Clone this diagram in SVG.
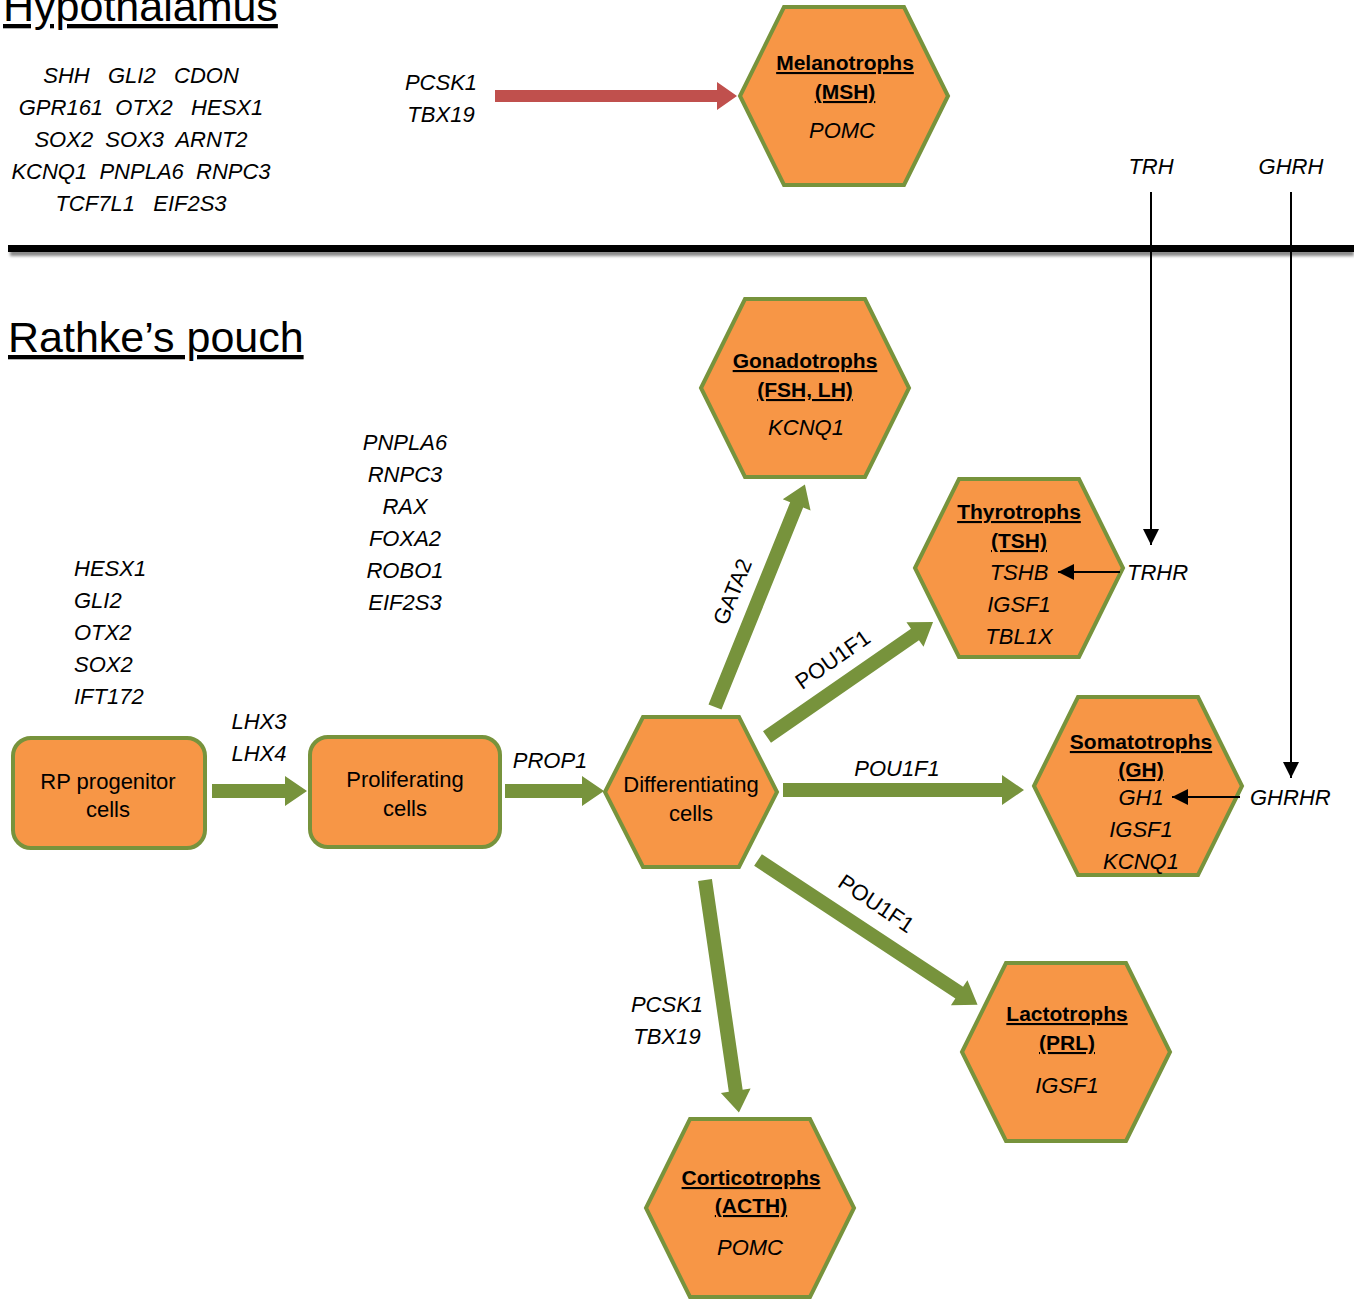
<svg xmlns="http://www.w3.org/2000/svg" width="1354" height="1300" viewBox="0 0 1354 1300">
<defs>
<style>
.hex{fill:#F79646;stroke:#77933C;stroke-width:4;stroke-linejoin:miter}
.box{fill:#F79646;stroke:#77933C;stroke-width:4}
.garrow{fill:#77933C}
.rarrow{fill:#C0504D}
.t{font-family:"Liberation Sans",Arial,sans-serif;fill:#000}
.b{font-family:"Liberation Sans",Arial,sans-serif;font-weight:bold;font-size:21px;text-decoration:underline;text-anchor:middle}
.i{font-family:"Liberation Sans",Arial,sans-serif;font-style:italic;font-size:22px}
.m{text-anchor:middle}
.r{font-family:"Liberation Sans",Arial,sans-serif;font-size:22px;text-anchor:middle}
.pre{white-space:pre}
.thin{stroke:#000;stroke-width:2;fill:none}
</style>
<marker id="ah2" viewBox="0 0 10 10" refX="10" refY="5" markerWidth="8" markerHeight="8" orient="auto">
<path d="M0,0 L10,5 L0,10 z" fill="#000"/>
</marker>
<filter id="sh" x="-0.01" y="-2" width="1.02" height="5">
<feGaussianBlur stdDeviation="1.5"/>
</filter>
</defs>
<rect width="1354" height="1300" fill="#fff"/>

<!-- Titles and separators -->
<g id="titles">
<text class="t" x="3" y="21" font-size="43" text-decoration="underline">Hypothalamus</text>
<text class="t" x="8" y="352" font-size="43" text-decoration="underline">Rathke’s pouch</text>
<rect x="10" y="250" width="1344" height="6" fill="#888" filter="url(#sh)"/>
<rect x="8" y="245" width="1346" height="7" fill="#000"/>
</g>

<!-- Gene lists -->
<g id="hypothalamus-genes">
<text class="i m pre" x="141" y="83">SHH   GLI2   CDON</text>
<text class="i m pre" x="141" y="115">GPR161  OTX2   HESX1</text>
<text class="i m pre" x="141" y="147">SOX2  SOX3  ARNT2</text>
<text class="i m pre" x="141" y="179">KCNQ1  PNPLA6  RNPC3</text>
<text class="i m pre" x="141" y="211">TCF7L1   EIF2S3</text>
</g>
<g id="rp-genes">
<text class="i" x="74" y="576">HESX1</text>
<text class="i" x="74" y="608">GLI2</text>
<text class="i" x="74" y="640">OTX2</text>
<text class="i" x="74" y="672">SOX2</text>
<text class="i" x="74" y="704">IFT172</text>
</g>
<g id="prolif-genes">
<text class="i m" x="405" y="450">PNPLA6</text>
<text class="i m" x="405" y="482">RNPC3</text>
<text class="i m" x="405" y="514">RAX</text>
<text class="i m" x="405" y="546">FOXA2</text>
<text class="i m" x="405" y="578">ROBO1</text>
<text class="i m" x="405" y="610">EIF2S3</text>
</g>

<!-- Nodes -->
<g id="melanotrophs">
<polygon class="hex" points="740,96 784,7 904,7 948,96 904,185 784,185"/>
<text class="b" x="845" y="70">Melanotrophs</text>
<text class="b" x="845" y="99">(MSH)</text>
<text class="i m" x="842" y="138">POMC</text>
</g>
<g id="gonadotrophs">
<polygon class="hex" points="701,388 745,299 865,299 909,388 865,477 745,477"/>
<text class="b" x="805" y="368">Gonadotrophs</text>
<text class="b" x="805" y="397">(FSH, LH)</text>
<text class="i m" x="806" y="435">KCNQ1</text>
</g>
<g id="thyrotrophs">
<polygon class="hex" points="915,568 959,479 1079,479 1123,568 1079,657 959,657"/>
<text class="b" x="1019" y="519">Thyrotrophs</text>
<text class="b" x="1019" y="548">(TSH)</text>
<text class="i m" x="1019" y="580">TSHB</text>
<text class="i m" x="1019" y="612">IGSF1</text>
<text class="i m" x="1019" y="644">TBL1X</text>
</g>
<g id="somatotrophs">
<polygon class="hex" points="1034,786 1078,697 1198,697 1242,786 1198,875 1078,875"/>
<text class="b" x="1141" y="749">Somatotrophs</text>
<text class="b" x="1141" y="777">(GH)</text>
<text class="i m" x="1141" y="805">GH1</text>
<text class="i m" x="1141" y="837">IGSF1</text>
<text class="i m" x="1141" y="869">KCNQ1</text>
</g>
<g id="lactotrophs">
<polygon class="hex" points="962,1052 1006,963 1126,963 1170,1052 1126,1141 1006,1141"/>
<text class="b" x="1067" y="1021">Lactotrophs</text>
<text class="b" x="1067" y="1050">(PRL)</text>
<text class="i m" x="1067" y="1093">IGSF1</text>
</g>
<g id="corticotrophs">
<polygon class="hex" points="646,1208 690,1119 810,1119 854,1208 810,1297 690,1297"/>
<text class="b" x="751" y="1185">Corticotrophs</text>
<text class="b" x="751" y="1213">(ACTH)</text>
<text class="i m" x="750" y="1255">POMC</text>
</g>
<g id="differentiating">
<polygon class="hex" points="605,792 643,717 739,717 777,792 739,867 643,867"/>
<text class="r" x="691" y="792">Differentiating</text>
<text class="r" x="691" y="821">cells</text>
</g>
<g id="rp-progenitor">
<rect class="box" x="13" y="738" width="192" height="110" rx="18"/>
<text class="r" x="108" y="789">RP progenitor</text>
<text class="r" x="108" y="817">cells</text>
</g>
<g id="proliferating">
<rect class="box" x="310" y="737" width="190" height="110" rx="18"/>
<text class="r" x="405" y="787">Proliferating</text>
<text class="r" x="405" y="816">cells</text>
</g>

<!-- Connectors -->
<g id="connectors">
<polygon class="rarrow" transform="translate(495,96)" points="0,-6 222,-6 222,-14 242,0 222,14 222,6 0,6"/>
<polygon class="garrow" transform="translate(212,791)" points="0,-7 73,-7 73,-15 95,0 73,15 73,7 0,7"/>
<polygon class="garrow" transform="translate(505,791)" points="0,-7 77,-7 77,-15 99,0 77,15 77,7 0,7"/>
<polygon class="garrow" transform="translate(783,790)" points="0,-7 219,-7 219,-15 241,0 219,15 219,7 0,7"/>
<polygon class="garrow" transform="translate(715,707) rotate(-68)" points="0,-7 218,-7 218,-15 240,0 218,15 218,7 0,7"/>
<polygon class="garrow" transform="translate(767,737) rotate(-34.7)" points="0,-7 180,-7 180,-15 202,0 180,15 180,7 0,7"/>
<polygon class="garrow" transform="translate(758,860) rotate(33.4)" points="0,-7 241,-7 241,-15 263,0 241,15 241,7 0,7"/>
<polygon class="garrow" transform="translate(705,880) rotate(81.7)" points="0,-7 213,-7 213,-15 235,0 213,15 213,7 0,7"/>
<line class="thin" x1="1151" y1="192" x2="1151" y2="545" marker-end="url(#ah2)"/>
<line class="thin" x1="1291" y1="192" x2="1291" y2="778" marker-end="url(#ah2)"/>
<line class="thin" x1="1120" y1="572" x2="1058" y2="572" marker-end="url(#ah2)"/>
<line class="thin" x1="1240" y1="797" x2="1172" y2="797" marker-end="url(#ah2)"/>
</g>

<!-- Connector labels -->
<g id="labels">
<text class="i m" x="441" y="90">PCSK1</text>
<text class="i m" x="441" y="122">TBX19</text>
<text class="i m" x="1151" y="174">TRH</text>
<text class="i m" x="1291" y="174">GHRH</text>
<text class="i" x="1127" y="580">TRHR</text>
<text class="i" x="1250" y="805">GHRHR</text>
<text class="i m" x="259" y="729">LHX3</text>
<text class="i m" x="259" y="761">LHX4</text>
<text class="i m" x="550" y="768">PROP1</text>
<text class="i m" x="897" y="776">POU1F1</text>
<text class="i m" x="667" y="1012">PCSK1</text>
<text class="i m" x="667" y="1044">TBX19</text>
<text class="t m" font-size="22" transform="translate(733,592) rotate(-68)" y="7">GATA2</text>
<text class="t m" font-size="22" transform="translate(833,660) rotate(-35)" y="7">POU1F1</text>
<text class="t m" font-size="22" transform="translate(876,904) rotate(34)" y="7">POU1F1</text>
</g>
</svg>
